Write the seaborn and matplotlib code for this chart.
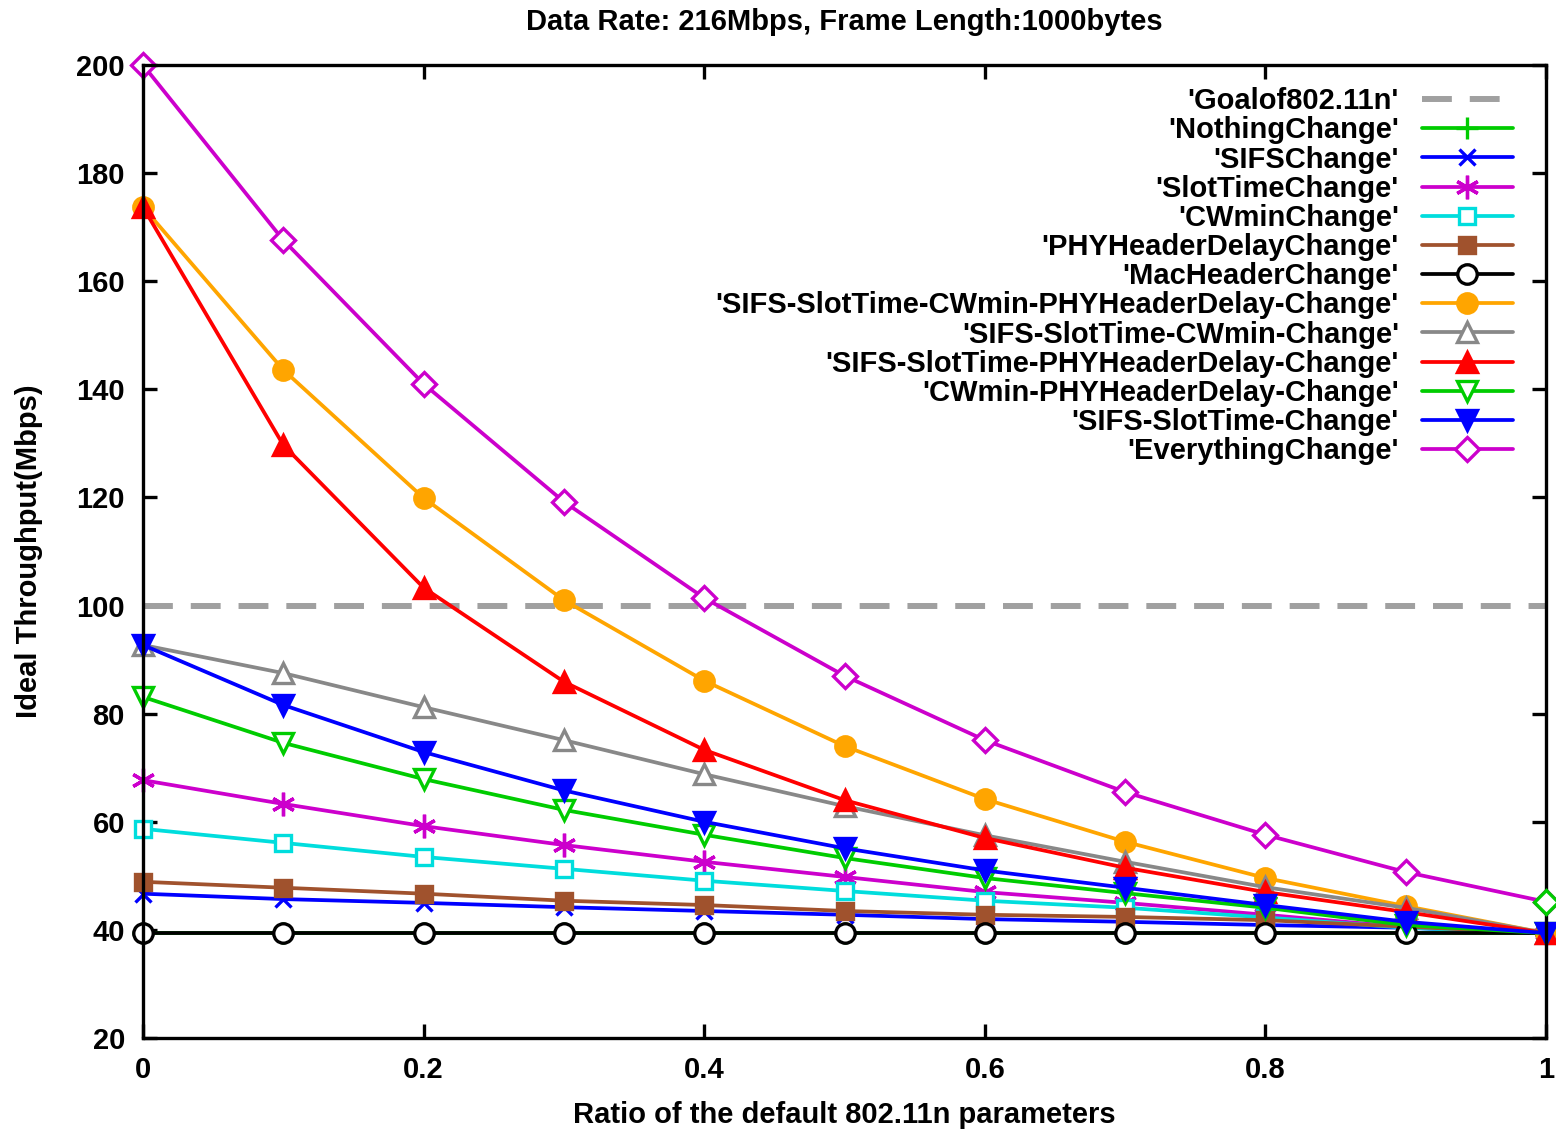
import numpy as np
import pandas as pd
import matplotlib
matplotlib.use("Agg")
import matplotlib.pyplot as plt
import seaborn as sns

ratio = [0.0, 0.1, 0.2, 0.3, 0.4, 0.5, 0.6, 0.7, 0.8, 0.9, 1.0]
goal = [100.0] * 11
nothing_change = [39.4] * 11
sifs_change = [46.7, 45.7, 45.0, 44.2, 43.5, 42.8, 42.0, 41.5, 40.9, 40.4, 39.4]
slottime_change = [67.7, 63.3, 59.2, 55.7, 52.6, 49.8, 47.0, 45.0, 42.8, 40.5, 39.4]
cwmin_change = [58.7, 56.1, 53.5, 51.3, 49.1, 47.2, 45.4, 44.1, 42.3, 40.4, 39.4]
phy_change = [48.9, 47.8, 46.7, 45.4, 44.6, 43.5, 42.8, 42.4, 41.8, 40.6, 39.4]
mac_change = [39.4] * 11
sifs_slot_cw_phy = [173.7, 143.6, 119.9, 101.0, 86.1, 74.0, 64.2, 56.3, 49.6, 44.4, 39.4]
sifs_slot_cw = [92.7, 87.5, 81.2, 75.1, 68.8, 62.9, 57.5, 52.6, 47.9, 44.1, 39.4]
sifs_slot_phy = [173.7, 129.7, 103.3, 85.9, 73.3, 64.0, 57.0, 51.5, 47.0, 43.3, 39.4]
cw_phy = [83.1, 74.6, 67.9, 62.2, 57.6, 53.3, 49.6, 46.8, 44.1, 40.9, 39.4]
sifs_slot = [92.7, 81.6, 72.9, 65.8, 60.0, 55.1, 51.0, 47.8, 44.6, 41.5, 39.4]
everything = [200.0, 167.6, 141.0, 119.2, 101.4, 87.0, 75.1, 65.5, 57.6, 50.7, 45.2]

# label, values, colour, marker, filled
series = [
    ("'NothingChange'", nothing_change, "#00cc00", "+", True),
    ("'SIFSChange'", sifs_change, "#0000ff", "x", True),
    ("'SlotTimeChange'", slottime_change, "#cc00cc", (6, 2, 0), True),
    ("'CWminChange'", cwmin_change, "#00dddd", "s", False),
    ("'PHYHeaderDelayChange'", phy_change, "#a0522d", "s", True),
    ("'MacHeaderChange'", mac_change, "#000000", "o", False),
    ("'SIFS-SlotTime-CWmin-PHYHeaderDelay-Change'", sifs_slot_cw_phy, "#ffa500", "o", True),
    ("'SIFS-SlotTime-CWmin-Change'", sifs_slot_cw, "#888888", "^", False),
    ("'SIFS-SlotTime-PHYHeaderDelay-Change'", sifs_slot_phy, "#ff0000", "^", True),
    ("'CWmin-PHYHeaderDelay-Change'", cw_phy, "#00cc00", "v", False),
    ("'SIFS-SlotTime-Change'", sifs_slot, "#0000ff", "v", True),
    ("'EverythingChange'", everything, "#cc00cc", "D", False),
]
msizes = {"+": 16, "x": 12, "s": 11, "o": 14, "^": 15, "v": 15, "D": 12}

sns.set_style("ticks")
plt.rcParams['font.family'] = ['Liberation Sans', 'DejaVu Sans']
plt.rcParams['font.weight'] = 'bold'
plt.rcParams['text.color'] = 'black'
plt.rcParams['axes.labelcolor'] = 'black'
plt.rcParams['xtick.color'] = 'black'
plt.rcParams['ytick.color'] = 'black'

fig = plt.figure(figsize=(15.56, 11.3), dpi=100)
ax = fig.add_axes([0.0919, 0.0814, 0.9017, 0.8611])

sns.lineplot(x=ratio, y=goal, ax=ax, color="#a0a0a0", linewidth=4.3,
             dashes=False, label="'Goalof802.11n'")
ax.lines[-1].set_dashes([5, 3])

for label, vals, col, mk, filled in series:
    msize = msizes.get(mk, 17)
    kw = dict(markersize=msize, markeredgewidth=2.4, markeredgecolor=col)
    kw["markerfacecolor"] = col if filled else "white"
    sns.lineplot(x=ratio, y=vals, ax=ax, color=col, linewidth=2.7, marker=mk,
                 label=label, clip_on=False, **kw)

# last Everything point drawn in green as in the original output
ax.plot(ratio[-1:], everything[-1:], linestyle="none", marker="D", markersize=12,
        markeredgewidth=2.4, markeredgecolor="#00cc00", markerfacecolor="white",
        clip_on=False, zorder=5)

ax.set_xlim(0, 1)
ax.set_ylim(20, 200)
ax.set_xticks([0, 0.2, 0.4, 0.6, 0.8, 1.0])
ax.set_xticklabels(["0", "0.2", "0.4", "0.6", "0.8", "1"])
ax.set_yticks(range(20, 201, 20))
ax.tick_params(direction="in", length=10, width=2.4, labelsize=21, pad=13,
               top=True, right=True, colors="black")
for sp in ax.spines.values():
    sp.set_linewidth(2.4)
    sp.set_color("black")
    sp.set_visible(True)

ax.set_title("Data Rate: 216Mbps, Frame Length:1000bytes", fontsize=21,
             fontweight="bold", pad=25)
ax.set_xlabel("Ratio of the default 802.11n parameters", fontsize=21,
              fontweight="bold", labelpad=12)
ax.set_ylabel("Ideal Throughput(Mbps)", fontsize=21, fontweight="bold", labelpad=24)

leg = ax.legend(loc="upper right", bbox_to_anchor=(0.997, 1.007),
                markerfirst=False, frameon=False, fontsize=21,
                numpoints=1, handlelength=3.1, labelspacing=0.04,
                handletextpad=0.8, borderaxespad=0.6)

fig.savefig("out.png", dpi=100)
